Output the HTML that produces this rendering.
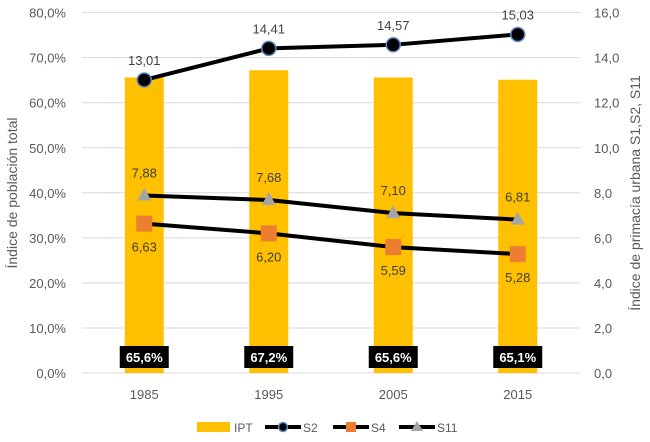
<!DOCTYPE html>
<html><head><meta charset="utf-8"><style>
html,body{margin:0;padding:0;background:#fff;}
svg{display:block;font-family:"Liberation Sans",sans-serif;}
</style></head><body>
<svg id="c" width="650" height="442" xmlns="http://www.w3.org/2000/svg"></svg>
<script>
const categories=["1985","1995","2005","2015"];
const ipt=[65.6,67.2,65.6,65.1];
const s2=[13.01,14.41,14.57,15.03];
const s4=[6.63,6.20,5.59,5.28];
const s11=[7.88,7.68,7.10,6.81];
const leftTicks=[0,10,20,30,40,50,60,70,80];
const rightTicks=[0,2,4,6,8,10,12,14,16];
const NS="http://www.w3.org/2000/svg";
const svg=document.getElementById('c');
const X0=82,X1=580,Y0=373,Y1=12.6;
const xc=i=>X0+(X1-X0)*(i+0.5)/categories.length;
const yL=v=>Y0-(Y0-Y1)*v/80;
const yR=v=>Y0-(Y0-Y1)*v/16;
const fmt=(v,d)=>v.toFixed(d).replace('.',',');
function mk(t,a,txt){const e=document.createElementNS(NS,t);for(const k in a)e.setAttribute(k,a[k]);if(txt!==undefined)e.textContent=txt;svg.appendChild(e);return e;}
leftTicks.forEach(v=>{
 const g=mk('line',{x1:X0,x2:X1,y1:yL(v),y2:yL(v),stroke:'#d9d9d9','stroke-width':1});
 
 
 const t=mk('text',{x:66,y:yL(v)+5,'text-anchor':'end','font-size':13,fill:'#595959'},fmt(v,1)+'%');
 
 
});
rightTicks.forEach(v=>{
 const t=mk('text',{x:594,y:yR(v)+5,'font-size':13,fill:'#595959'},fmt(v,1));
 
 
});
categories.forEach((c,i)=>{
 const b=mk('rect',{x:xc(i)-19.5,y:yL(ipt[i]),width:39,height:Y0-yL(ipt[i]),fill:'#ffc000'});
 
 
 const t=mk('text',{x:xc(i),y:399,'text-anchor':'middle','font-size':13,fill:'#595959'},c);
 
 
 const bx=mk('rect',{x:xc(i)-24.5,y:346,width:49,height:22,fill:'#000'});
 
 
 const bt=mk('text',{x:xc(i),y:362,'text-anchor':'middle','font-size':13,'font-weight':'bold',fill:'#fff'},fmt(ipt[i],1)+'%');
 
 
});
function line(vals,name){
 const p=mk('polyline',{points:vals.map((v,i)=>xc(i)+','+yR(v)).join(' '),fill:'none',stroke:'#000','stroke-width':4});
 
 
}
line(s2,'s2');line(s4,'s4');line(s11,'s11');
s2.forEach((v,i)=>{
 const m=mk('circle',{cx:xc(i),cy:yR(v),r:7,fill:'#000',stroke:'#5b8dc9','stroke-width':1.5});
 
 
 const t=mk('text',{x:xc(i),y:yR(v)-15,'text-anchor':'middle','font-size':13,fill:'#404040'},fmt(v,2));
 
 
});
s4.forEach((v,i)=>{
 const m=mk('rect',{x:xc(i)-8,y:yR(v)-8,width:16,height:16,fill:'#ed7d31'});
 
 
 const t=mk('text',{x:xc(i),y:yR(v)+28,'text-anchor':'middle','font-size':13,fill:'#404040'},fmt(v,2));
 
 
});
s11.forEach((v,i)=>{
 const y=yR(v);
 const m=mk('polygon',{points:`${xc(i)},${y-8} ${xc(i)+7},${y+5} ${xc(i)-7},${y+5}`,fill:'#a5a5a5'});
 
 
 const t=mk('text',{x:xc(i),y:y-18,'text-anchor':'middle','font-size':13,fill:'#404040'},fmt(v,2));
 
 
});
const yl=mk('text',{transform:'translate(17,193) rotate(-90)','text-anchor':'middle','font-size':14,fill:'#595959'},'Índice de población total');


const yr=mk('text',{transform:'translate(640,193) rotate(-90)','text-anchor':'middle','font-size':14,fill:'#595959'},'Índice de primacía urbana S1,S2, S11');


// legend
const LY=427;
let e;
e=mk('rect',{x:197,y:LY-5,width:33,height:10,fill:'#ffc000'});
e=mk('text',{x:234,y:LY+5,'font-size':12,fill:'#595959'},'IPT');
e=mk('line',{x1:265,x2:301,y1:LY,y2:LY,stroke:'#000','stroke-width':4});
e=mk('circle',{cx:283,cy:LY,r:4.5,fill:'#000',stroke:'#5b8dc9','stroke-width':1.5});
e=mk('text',{x:303,y:LY+5,'font-size':12,fill:'#595959'},'S2');
e=mk('line',{x1:333,x2:369,y1:LY,y2:LY,stroke:'#000','stroke-width':4});
e=mk('rect',{x:346,y:LY-5,width:10,height:10,fill:'#ed7d31'});
e=mk('text',{x:371,y:LY+5,'font-size':12,fill:'#595959'},'S4');
e=mk('line',{x1:399,x2:435,y1:LY,y2:LY,stroke:'#000','stroke-width':4});
e=mk('polygon',{points:`417,${LY-6} 423,${LY+4} 411,${LY+4}`,fill:'#a5a5a5'});
e=mk('text',{x:437,y:LY+5,'font-size':12,fill:'#595959'},'S11');
</script>
</body></html>
